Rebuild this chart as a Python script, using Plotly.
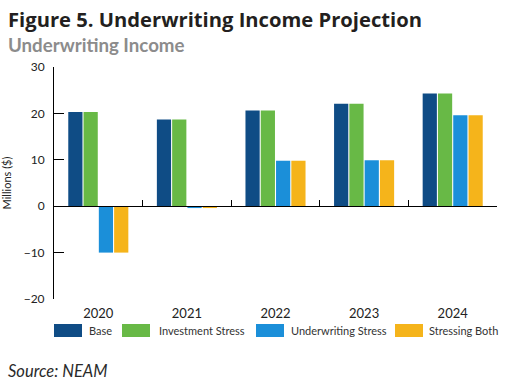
import plotly.graph_objects as go

years = ["2020", "2021", "2022", "2023", "2024"]
base = [20.3, 18.7, 20.6, 22.1, 24.3]
investment_stress = [20.3, 18.7, 20.6, 22.1, 24.3]
underwriting_stress = [-10.0, -0.4, 9.8, 9.9, 19.6]
stressing_both = [-10.0, -0.4, 9.8, 9.9, 19.6]

series_names = ["Base", "Investment Stress", "Underwriting Stress", "Stressing Both"]
series_values = [base, investment_stress, underwriting_stress, stressing_both]
colors = ["#0f4c85", "#68b946", "#1b8fd9", "#f5b41b"]

y_ticks = [-20, -10, 0, 10, 20, 30]

W, H = 510, 382
L, R, T, B = 54, 13, 67, 83
PW, PH = W - L - R, H - T - B


def px_x(x):
    return (x - L) / PW


def px_y(y):
    return (H - B - y) / PH


fig = go.Figure()
for name, vals, col in zip(series_names, series_values, colors):
    fig.add_trace(go.Bar(x=years, y=vals, name=name, marker=dict(color=col, line=dict(width=0)),
                         showlegend=False))

tick_font = dict(family="Lato", size=12, color="#222222")

fig.update_layout(
    width=W, height=H,
    margin=dict(l=L, r=R, t=T, b=B, autoexpand=False),
    paper_bgcolor="white", plot_bgcolor="white",
    barmode="group", bargap=0.31, bargroupgap=0.07,
    xaxis=dict(type="category", showgrid=False, showline=False, ticks="",
               tickfont=dict(family="Lato", size=13, color="#222222"), ticklabelstandoff=5),
    xaxis2=dict(type="category", matches="x", overlaying="x", anchor="free", position=0.4,
                showline=True, linecolor="black", linewidth=1, ticks="inside",
                tickson="boundaries", ticklen=6, tickcolor="black", tickwidth=1,
                showticklabels=False, showgrid=False),
    yaxis=dict(range=[-20, 30], tickvals=y_ticks, showgrid=False, zeroline=True,
               zerolinecolor="black", zerolinewidth=1, showline=True, linecolor="black",
               linewidth=1, ticks="inside", ticklen=10, tickcolor="black",
               tickfont=tick_font, ticklabelstandoff=6,
               title=dict(text="Millions ($)", font=dict(family="Lato", size=11, color="#222222"),
                          standoff=14)),
)

# invisible trace to keep xaxis2 present
fig.add_trace(go.Bar(x=years, y=[0] * len(years), xaxis="x2", yaxis="y", showlegend=False,
                     marker=dict(opacity=0), hoverinfo="skip"))

ann = [
    dict(text="<b>Figure 5. Underwriting Income Projection</b>", x=px_x(6), y=px_y(19),
         font=dict(family="Open Sans", size=20.2, color="#231f20")),
    dict(text="<b>Underwriting Income</b>", x=px_x(6), y=px_y(45),
         font=dict(family="Lato", size=18.7, color="#8c8c8c")),
    dict(text="<i>Source: NEAM</i>", x=px_x(6), y=px_y(371),
         font=dict(family="Lato", size=16.5, color="#2a2a2a")),
]
for a in ann:
    fig.add_annotation(xref="paper", yref="paper", xanchor="left", yanchor="middle",
                       showarrow=False, **a)

# custom legend with wide swatches
leg_rect_x = [54, 122, 256, 395]
leg_text_x = [87, 157, 289, 427]
for name, col, rx, tx in zip(series_names, colors, leg_rect_x, leg_text_x):
    fig.add_shape(type="rect", xref="paper", yref="paper", x0=px_x(rx), x1=px_x(rx + 28),
                  y0=px_y(337), y1=px_y(324), fillcolor=col, line=dict(width=0))
    fig.add_annotation(xref="paper", yref="paper", x=px_x(tx), y=px_y(330.5), text=name,
                       xanchor="left", yanchor="middle", showarrow=False,
                       font=dict(family="Lato", size=11, color="#333333"))

fig.write_html("out.html", config={"displayModeBar": False},
               post_script="document.body.style.margin='0';")
